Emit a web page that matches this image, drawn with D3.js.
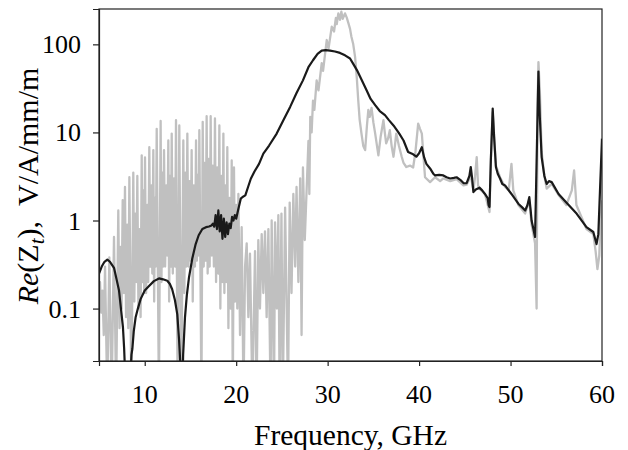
<!DOCTYPE html>
<html>
<head>
<meta charset="utf-8">
<script src="https://cdn.jsdelivr.net/npm/d3@7"></script>
</head>
<body style="margin:0">
<svg id="chart" width="628" height="450"></svg>
<script>
// ---- data ----
const xTicks = [10, 20, 30, 40, 50, 60];
const yTicks = [0.1, 1, 10, 100];
const yTickLabels = ["0.1", "1", "10", "100"];

// grey series: frequency (GHz) and Re(Zt)
const grayFreq = [
  5.00, 5.11, 5.25, 5.38, 5.52, 5.66, 5.90, 6.13, 6.38, 6.64, 6.87, 7.11, 7.25, 7.35, 7.47, 7.59, 7.72, 7.84, 7.96, 8.08,
  8.20, 8.32, 8.54, 8.75, 8.86, 8.97, 9.08, 9.19, 9.31, 9.43, 9.55, 9.67, 9.76, 9.85, 9.94, 10.03, 10.15, 10.27, 10.38, 10.50,
  10.61, 10.72, 10.83, 10.94, 11.03, 11.12, 11.21, 11.31, 11.55, 11.74, 11.83, 11.92, 12.02, 12.11, 12.23, 12.35, 12.46, 12.58, 12.67, 12.76,
  12.86, 12.95, 13.07, 13.20, 13.31, 13.42, 13.60, 13.78, 14.00, 14.22, 14.33, 14.44, 14.55, 14.66, 14.78, 14.90, 15.01, 15.13, 15.25, 15.37,
  15.49, 15.61, 15.70, 15.79, 15.88, 15.97, 16.20, 16.34, 16.45, 16.55, 16.66, 16.77, 16.88, 17.00, 17.10, 17.21, 17.33, 17.45, 17.56, 17.68,
  17.80, 17.92, 18.04, 18.16, 18.27, 18.38, 18.49, 18.60, 18.71, 18.82, 18.92, 19.03, 19.15, 19.27, 19.39, 19.51, 19.63, 19.76, 19.88, 20.00,
  20.12, 20.24, 20.42, 20.60, 20.80, 20.97, 21.15, 21.33, 21.51, 21.77, 22.06, 22.23, 22.42, 22.60, 22.79, 22.97, 23.15, 23.33, 23.52, 23.76,
  23.88, 24.14, 24.25, 24.45, 24.61, 24.75, 24.95, 25.10, 25.35, 25.67, 25.85, 26.05, 26.25, 26.45, 26.60, 26.80, 27.00, 27.15, 27.30, 27.50,
  27.90, 28.00, 28.10, 28.25, 28.40, 28.55, 28.80, 29.00, 29.35, 29.50, 29.90, 30.10, 30.45, 30.70, 30.90, 31.00, 31.17, 31.35, 31.50, 31.65,
  31.90, 32.10, 32.27, 32.45, 32.60, 32.80, 33.00, 33.20, 33.35, 33.50, 33.70, 33.90, 34.10, 34.30, 34.45, 34.60, 34.80, 35.00, 35.20, 35.40,
  35.55, 35.80, 36.10, 36.25, 36.40, 36.60, 36.80, 37.00, 37.20, 37.35, 37.50, 37.80, 38.10, 38.30, 38.60, 39.00, 39.35, 39.60, 39.90, 40.10,
  40.30, 40.50, 40.65, 41.20, 41.75, 42.30, 42.65, 43.40, 44.10, 44.85, 45.20, 45.65, 45.94, 46.10, 46.30, 46.45, 46.60, 47.20, 47.70, 47.85,
  48.05, 48.40, 48.85, 49.40, 49.80, 50.10, 50.30, 50.85, 51.60, 52.05, 52.30, 52.68, 52.85, 52.95, 53.05, 53.20, 53.40, 53.70, 53.95, 54.50,
  55.25, 56.10, 56.70, 56.95, 57.20, 58.30, 59.05, 59.30, 59.50, 59.70, 59.85, 60.00
];
const grayVal = [
  0.17, 0.20, 0.09, 0.16, 0.05, 0.30, 0.01, 0.38, 0.01, 0.65, 0.01, 1.3, 0.06, 0.5, 0.1, 1.7, 0.15, 2.4, 0.08, 0.9,
  0.06, 3.1, 0.01, 3.5, 0.12, 1.2, 0.2, 3.2, 0.1, 0.8, 0.08, 5.5, 0.2, 2.2, 0.15, 5.2, 0.15, 1.5, 0.2, 6.8,
  0.3, 2.5, 0.25, 6.3, 0.12, 1.8, 0.3, 11, 0.01, 13.5, 0.2, 3.5, 0.3, 6.3, 0.3, 2.5, 0.4, 8.1, 0.12, 3.2,
  0.3, 9.7, 0.25, 3.0, 0.3, 13.8, 0.01, 12, 0.01, 8.1, 0.15, 3.5, 0.3, 9.7, 0.3, 2.8, 0.35, 6.3, 0.12, 2.5,
  0.3, 8.1, 0.35, 3.3, 0.4, 10.6, 0.01, 13.2, 0.3, 4.5, 0.35, 15.3, 0.25, 5.0, 0.3, 15.3, 0.4, 4.2, 0.3, 14.4,
  0.2, 4.0, 0.25, 12, 0.1, 3.2, 0.2, 9.7, 0.15, 2.5, 0.2, 6.8, 0.06, 1.8, 0.1, 4.8, 0.01, 4.0, 0.12, 1.5,
  0.1, 2.0, 0.05, 0.84, 0.01, 0.3, 0.55, 0.08, 0.42, 0.01, 0.45, 0.01, 0.6, 0.1, 0.7, 0.15, 0.75, 0.08, 0.8, 0.01,
  1.0, 0.01, 0.95, 0.1, 1.15, 0.01, 1.2, 0.01, 1.4, 0.01, 1.6, 0.15, 2.0, 0.3, 2.4, 0.2, 3.0, 0.05, 4.0, 0.6,
  8, 2, 15, 10, 23, 18, 39, 30, 61, 50, 112, 90, 159, 140, 200, 170, 225, 190, 235, 195,
  225, 200, 174, 150, 122, 100, 72, 40, 23, 14, 9.7, 7, 6.3, 12, 18, 15, 19, 13, 9.7, 7,
  5.5, 9, 13.8, 10, 7.5, 8.5, 10.6, 7, 5.3, 7, 9.7, 7, 5.3, 4.5, 4.05, 4.2, 4.0, 6, 12.6, 11,
  9.7, 5, 3.1, 2.73, 3.1, 2.8, 3.0, 2.8, 2.95, 2.5, 2.55, 3.2, 2.2, 3.0, 5.25, 2.5, 2.3, 2.0, 1.25, 5,
  17, 4.2, 3.1, 2.4, 2.2, 4.4, 2.2, 1.5, 1.2, 1.7, 0.9, 0.55, 0.1, 20, 63, 30, 6, 3.2, 2.3, 2.6,
  1.95, 1.5, 2.2, 3.7, 1.5, 0.8, 0.7, 0.45, 0.28, 0.4, 1.0, 1.7
];

// black series
const blackFreq = [
  5.00, 5.30, 5.60, 5.91, 6.20, 6.64, 6.90, 7.19, 7.40, 7.62, 7.75, 7.84, 8.00, 8.30, 8.46, 8.55, 8.65, 8.80, 9.00, 9.25,
  9.55, 10.00, 10.47, 11.00, 11.56, 12.00, 12.47, 12.75, 13.00, 13.30, 13.56, 13.75, 13.93, 14.05, 14.20, 14.40, 14.60, 14.84, 15.20, 15.57,
  15.90, 16.30, 16.70, 17.03, 17.30, 17.45, 17.60, 17.75, 17.90, 18.05, 18.20, 18.35, 18.50, 18.65, 18.80, 18.95, 19.10, 19.25, 19.40, 19.55,
  19.70, 19.85, 20.00, 20.20, 20.50, 20.70, 21.00, 21.30, 21.60, 22.00, 22.50, 22.97, 23.60, 24.43, 25.20, 25.90, 26.60, 27.30,
  27.90, 28.40, 28.90, 29.35, 29.80, 30.26, 30.80, 31.35, 31.90, 32.45, 32.80, 33.20, 33.70, 34.27, 34.70, 35.20, 35.70, 36.27, 36.70, 37.20,
  37.80, 38.30, 38.80, 39.35, 39.70, 40.00, 40.30, 40.55, 40.80, 41.20, 41.55, 41.75, 42.20, 42.65, 43.00, 43.40, 43.80, 44.10, 44.50, 44.85,
  45.20, 45.50, 45.65, 45.80, 45.94, 46.20, 46.60, 46.90, 47.20, 47.50, 47.60, 47.70, 47.85, 48.05, 48.20, 48.40, 48.60, 48.85, 49.10, 49.40,
  50.10, 50.85, 51.30, 51.60, 51.85, 52.05, 52.20, 52.30, 52.50, 52.68, 52.80, 53.05, 53.20, 53.40, 53.70, 53.95, 54.20, 54.50, 55.25, 56.10,
  57.24, 58.30, 59.05, 59.40, 59.60, 59.80, 60.00
];
const blackVal = [
  0.25, 0.30, 0.34, 0.36, 0.34, 0.29, 0.22, 0.16, 0.10, 0.061, 0.035, 0.02, 0.005, 0.005, 0.02, 0.03, 0.035, 0.055, 0.079, 0.10,
  0.128, 0.16, 0.18, 0.205, 0.22, 0.215, 0.207, 0.19, 0.166, 0.125, 0.086, 0.045, 0.02, 0.005, 0.03, 0.079, 0.14, 0.226, 0.37, 0.54,
  0.68, 0.80, 0.84, 0.855, 0.88, 0.92, 0.85, 1.15, 0.8, 1.3, 0.75, 1.15, 0.62, 1.05, 0.65, 0.95, 0.7, 0.92, 0.82, 1.1,
  1.0, 1.15, 1.05, 1.3, 1.77, 1.85, 1.93, 2.4, 2.98, 3.6, 4.4, 5.75, 7.1, 9.7, 14, 19.5, 28, 39,
  55, 66, 78, 85, 86, 85, 83, 80, 75, 69, 60, 51, 40, 30, 24, 20.4, 17.5, 15.7, 13.8, 12,
  9.8, 8.1, 6.0, 5.65, 5.3, 5.8, 6.8, 5.2, 4.4, 3.9, 3.4, 3.25, 3.3, 3.25, 3.1, 3.0, 3.05, 3.1, 2.9, 2.66,
  2.65, 3.2, 4.05, 3.0, 2.1, 2.25, 2.36, 2.2, 2.0, 1.8, 1.5, 1.42, 5, 18.7, 9, 4.05, 3.4, 3.0, 2.6, 2.5,
  2.0, 1.55, 1.4, 1.3, 1.5, 1.84, 1.3, 1.0, 0.8, 0.65, 2.6, 49, 15, 5.25, 3.2, 2.6, 2.8, 2.73, 2.0, 1.6,
  1.19, 0.84, 0.74, 0.54, 0.7, 2.5, 8.5
];

// ---- layout ----
const SERIF = "serif";
const svg = d3.select("#chart");
const mLeft = 99, mRight = 602, mTop = 9, mBottom = 361;
const x = d3.scaleLinear().domain([5, 60]).range([mLeft, mRight]);
const y = d3.scaleLog().domain([0.0254, 252]).range([mBottom, mTop]);

svg.append("defs").append("clipPath").attr("id", "plotclip")
  .append("rect").attr("x", mLeft).attr("y", mTop).attr("width", mRight - mLeft).attr("height", mBottom - mTop);

const line = d3.line().x(d => x(d[0])).y(d => y(d[1]));
const grayData = grayFreq.map((f, i) => [f, grayVal[i]]);
const blackData = blackFreq.map((f, i) => [f, blackVal[i]]);

const g = svg.append("g").attr("clip-path", "url(#plotclip)");
g.append("path").datum(grayData).attr("d", line)
  .attr("fill", "none").attr("stroke", "#c0c0c0").attr("stroke-width", 2.3).attr("stroke-linejoin", "round");
g.append("path").datum(blackData).attr("d", line)
  .attr("fill", "none").attr("stroke", "#1a1a1a").attr("stroke-width", 2.2).attr("stroke-linejoin", "round");

// frame
svg.append("rect").attr("x", mLeft).attr("y", mTop).attr("width", mRight - mLeft).attr("height", mBottom - mTop)
  .attr("fill", "none").attr("stroke", "#222").attr("stroke-width", 1.2);

// axes (tick labels drawn as plain text elements with an explicit serif font)
const xAxis = d3.axisBottom(x).tickValues(xTicks).tickSize(5).tickFormat("");
const xg = svg.append("g").attr("transform", `translate(0,${mBottom})`).call(xAxis);
const yAxis = d3.axisLeft(y).tickValues(yTicks).tickSize(6).tickFormat("");
const yg = svg.append("g").attr("transform", `translate(${mLeft},0)`).call(yAxis);
[xg, yg].forEach(a => {
  a.select(".domain").attr("stroke", "#222").attr("stroke-width", 1.2);
  a.selectAll(".tick line").attr("stroke", "#222").attr("stroke-width", 1.2);
  a.selectAll(".tick text").remove();
});
xTicks.forEach(t => {
  svg.append("text").attr("x", x(t)).attr("y", 403).attr("text-anchor", "middle")
    .attr("font-family", SERIF).attr("font-size", 26).attr("fill", "#000").text(String(t));
});
yTicks.forEach((t, i) => {
  svg.append("text").attr("x", 81).attr("y", y(t) + 9).attr("text-anchor", "end")
    .attr("font-family", SERIF).attr("font-size", 26).attr("fill", "#000").text(yTickLabels[i]);
});

// titles
svg.append("text").attr("x", (mLeft + mRight) / 2).attr("y", 445).attr("text-anchor", "middle")
  .attr("font-family", SERIF).attr("font-size", 29.5).attr("fill", "#000").text("Frequency, GHz");

const yt = svg.append("text").attr("transform", "translate(38,186) rotate(-90)")
  .attr("text-anchor", "middle").attr("font-family", SERIF).attr("font-size", 30).attr("fill", "#000");
yt.append("tspan").attr("font-style", "italic").text("Re");
yt.append("tspan").text("(Z");
yt.append("tspan").attr("font-style", "italic").attr("font-size", 21).attr("dy", 6).text("t");
yt.append("tspan").attr("dy", -6).text("),\u00a0\u00a0V/A/mm/m");
</script>
</body>
</html>
